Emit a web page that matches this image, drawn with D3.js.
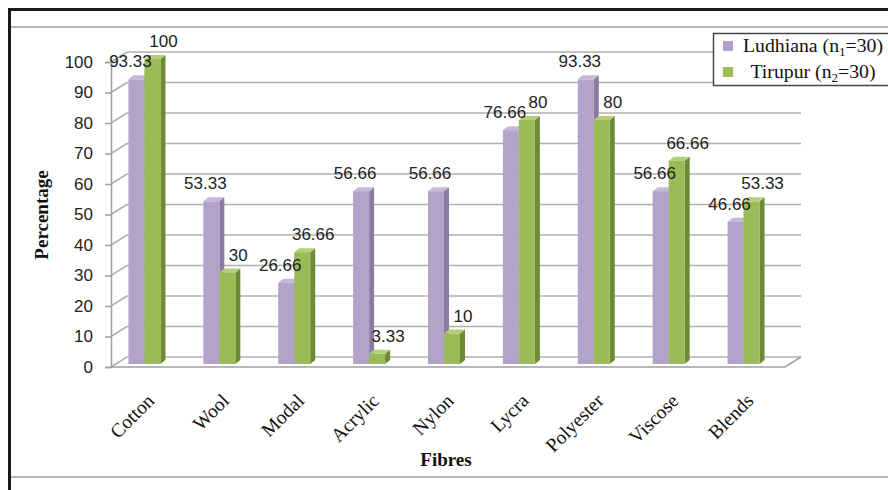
<!DOCTYPE html>
<html><head><meta charset="utf-8">
<script src="https://cdn.jsdelivr.net/npm/d3@7"></script>
<style>body{margin:0;background:#fff}svg{display:block}</style>
</head><body>
<script>
const categories = ["Cotton","Wool","Modal","Acrylic","Nylon","Lycra","Polyester","Viscose","Blends"];
const ludhiana = [93.33,53.33,26.66,56.66,56.66,76.66,93.33,56.66,46.66];
const tirupur  = [100,30,36.66,3.33,10,80,80,66.66,53.33];
const yTicks = [0,10,20,30,40,50,60,70,80,90,100];
const seriesNames = ["Ludhiana", "Tirupur"];

const W = 888, H = 490;
const svg = d3.select("body").append("svg").attr("width", W).attr("height", H);

// frame
svg.append("rect").attr("x",9.5).attr("y",9.5).attr("width",W).attr("height",H).attr("fill","#fff").attr("stroke","#1a1a1a").attr("stroke-width",3);
svg.append("line").attr("x1",11).attr("x2",W).attr("y1",27).attr("y2",27).attr("stroke","#b5b5b5").attr("stroke-width",2);
svg.append("line").attr("x1",11).attr("x2",W).attr("y1",477).attr("y2",477).attr("stroke","#b5b5b5").attr("stroke-width",2);

const depth = {dx:16, dy:-10};
const x = d3.scaleBand().domain(categories).range([111,785]).padding(0);
const y = d3.scaleLinear().domain([0,100]).range([367,62]);
const yb = d3.scaleLinear().domain([0,100]).range([364,59]);

const grid = svg.append("g");
yTicks.forEach(t=>{
  grid.append("line").attr("x1",111+depth.dx).attr("x2",785+depth.dx)
    .attr("y1",y(t)+depth.dy).attr("y2",y(t)+depth.dy).attr("stroke","#b0b0b0").attr("stroke-width",1.5);
  grid.append("line").attr("x1",111).attr("x2",111+depth.dx)
    .attr("y1",y(t)).attr("y2",y(t)+depth.dy).attr("stroke","#b0b0b0").attr("stroke-width",1.5);
});
grid.append("path").attr("d",`M111,${y(0)}L785,${y(0)}L${785+depth.dx},${y(0)+depth.dy}`)
  .attr("fill","none").attr("stroke","#a0a0a0").attr("stroke-width",1.5);
const yAxis = d3.axisLeft(y).tickValues(yTicks).tickSize(6).tickPadding(12);
const ya = svg.append("g").attr("transform","translate(111,0)").call(yAxis);
ya.select(".domain").attr("stroke","#a0a0a0").attr("stroke-width",1.5);
ya.selectAll(".tick line").attr("stroke","#a0a0a0").attr("stroke-width",1.5);
ya.selectAll(".tick text").attr("font-family","Liberation Sans, Arial, sans-serif").attr("font-size",17).attr("fill","#222");

// bars
const bw = 16, bd = {dx:5, dy:-4};
const colors = [
  {face:"#b3a2c9", side:"#8c7aa3", top:"#c5b8d8"},
  {face:"#9bbb59", side:"#6c8b34", top:"#b3cf7a"}
];
const data = [];
categories.forEach((c,i)=>{
  [ludhiana[i], tirupur[i]].forEach((v,s)=>{ data.push({c, v, s}); });
});
const pairCenter = c => x(c) + x.bandwidth()/2 - 4;
const bars = svg.append("g");
data.forEach(d=>{
  const x0 = pairCenter(d.c) - bw + d.s*bw;
  const x1 = x0 + bw;
  const yt = yb(d.v), y0 = yb(0);
  const col = colors[d.s];
  bars.append("path").attr("d",`M${x1},${y0}L${x1},${yt}L${x1+bd.dx},${yt+bd.dy}L${x1+bd.dx},${y0+bd.dy}Z`).attr("fill",col.side);
  bars.append("path").attr("d",`M${x0},${yt}L${x1},${yt}L${x1+bd.dx},${yt+bd.dy}L${x0+bd.dx},${yt+bd.dy}Z`).attr("fill",col.top);
  bars.append("rect").attr("x",x0).attr("y",yt).attr("width",bw).attr("height",y0-yt).attr("fill",col.face);
});
// value labels
data.forEach(d=>{
  const xc = pairCenter(d.c) - bw/2 + d.s*bw + (d.s===0 ? -6 : 11);
  svg.append("text").attr("x",xc).attr("y",yb(d.v)-12).attr("text-anchor","middle")
    .attr("font-family","Liberation Sans, Arial, sans-serif").attr("font-size",17).attr("fill","#222")
    .text(String(d.v));
});

// category labels
categories.forEach(c=>{
  const px = pairCenter(c) + 11, py = 402;
  svg.append("text").attr("transform",`translate(${px},${py}) rotate(-45)`).attr("text-anchor","end")
    .attr("font-family","Liberation Serif, Times New Roman, serif").attr("font-size",19.5).attr("fill","#111").text(c);
});

// axis titles
svg.append("text").attr("transform","translate(48,215) rotate(-90)").attr("text-anchor","middle")
  .attr("font-family","Liberation Serif, Times New Roman, serif").attr("font-size",19).attr("font-weight","bold").attr("fill","#111").text("Percentage");
svg.append("text").attr("x",446).attr("y",466).attr("text-anchor","middle")
  .attr("font-family","Liberation Serif, Times New Roman, serif").attr("font-size",19).attr("font-weight","bold").attr("fill","#111").text("Fibres");

// legend
const lg = svg.append("g");
lg.append("rect").attr("x",713.5).attr("y",33.5).attr("width",200).attr("height",52).attr("fill","#fff").attr("stroke","#444").attr("stroke-width",1.5);
const subs = ["1","2"];
seriesNames.forEach((n,i)=>{
  const cy = 46 + i*26;
  lg.append("rect").attr("x",723).attr("y",cy-5).attr("width",10).attr("height",10).attr("fill",colors[i].face);
  const t = lg.append("text").attr("x",813).attr("y",cy+6).attr("text-anchor","middle")
    .attr("font-family","Liberation Serif, Times New Roman, serif").attr("font-size",19.8).attr("fill","#111");
  t.append("tspan").text(n + " (n");
  t.append("tspan").attr("font-size",13).attr("dy",4).text(subs[i]);
  t.append("tspan").attr("dy",-4).text("=30)");
});
</script>
</body></html>
